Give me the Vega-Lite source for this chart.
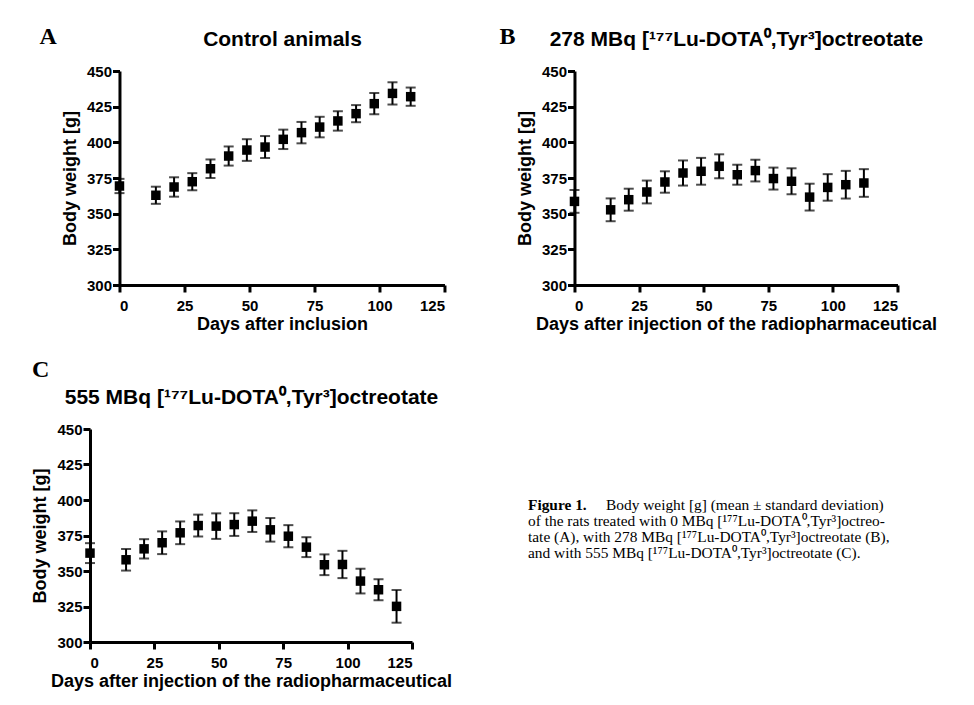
{
  "$schema": "https://vega.github.io/schema/vega-lite/v6.json",
  "background": "white",
  "padding": {"left": 31, "top": 25, "right": 5, "bottom": 5},
  "datasets": {
    "A": [
      {"day": 0, "w": 369.4, "sd": 5},
      {"day": 14, "w": 362.9, "sd": 6},
      {"day": 21, "w": 368.7, "sd": 6.8},
      {"day": 28, "w": 372.4, "sd": 6},
      {"day": 35, "w": 381.5, "sd": 6.5},
      {"day": 42, "w": 390.4, "sd": 6.7},
      {"day": 49, "w": 394.6, "sd": 7.6},
      {"day": 56, "w": 396.7, "sd": 7.7},
      {"day": 63, "w": 402.1, "sd": 6.8},
      {"day": 70, "w": 406.8, "sd": 7.5},
      {"day": 77, "w": 410.7, "sd": 7.2},
      {"day": 84, "w": 415, "sd": 6.8},
      {"day": 91, "w": 420.1, "sd": 6},
      {"day": 98, "w": 427.1, "sd": 7.4},
      {"day": 105, "w": 434.3, "sd": 7.8},
      {"day": 112, "w": 432, "sd": 6.4}
    ],
    "B": [
      {"day": 0, "w": 358.6, "sd": 8},
      {"day": 14, "w": 352.7, "sd": 8},
      {"day": 21, "w": 359.8, "sd": 7.7},
      {"day": 28, "w": 365.2, "sd": 8},
      {"day": 35, "w": 372.2, "sd": 7.5},
      {"day": 42, "w": 378.5, "sd": 8.8},
      {"day": 49, "w": 379.7, "sd": 9.4},
      {"day": 56, "w": 383.2, "sd": 8.4},
      {"day": 63, "w": 377.3, "sd": 7},
      {"day": 70, "w": 380.2, "sd": 7.6},
      {"day": 77, "w": 374.6, "sd": 7.7},
      {"day": 84, "w": 372.7, "sd": 9.1},
      {"day": 91, "w": 361.6, "sd": 9.4},
      {"day": 98, "w": 368.4, "sd": 9.3},
      {"day": 105, "w": 370.3, "sd": 9.7},
      {"day": 112, "w": 371.5, "sd": 9.7}
    ],
    "C": [
      {"day": 0, "w": 362.6, "sd": 7},
      {"day": 14, "w": 357.9, "sd": 7.6},
      {"day": 21, "w": 365.6, "sd": 6.8},
      {"day": 28, "w": 369.9, "sd": 8},
      {"day": 35, "w": 376.9, "sd": 8},
      {"day": 42, "w": 382, "sd": 7.7},
      {"day": 49, "w": 381.6, "sd": 9},
      {"day": 56, "w": 382.7, "sd": 8},
      {"day": 63, "w": 385.1, "sd": 7.6},
      {"day": 70, "w": 379, "sd": 8.3},
      {"day": 77, "w": 374.5, "sd": 7.8},
      {"day": 84, "w": 366.8, "sd": 7},
      {"day": 91, "w": 354.4, "sd": 7.3},
      {"day": 98, "w": 354.6, "sd": 9.6},
      {"day": 105, "w": 342.9, "sd": 8.7},
      {"day": 112, "w": 336.8, "sd": 7.4},
      {"day": 119, "w": 325.1, "sd": 11.5}
    ],
    "cap": [
      {"line": 1, "part": "head", "text": "Figure 1."},
      {"line": 1, "part": "rest", "text": "Body weight [g] (mean ± standard deviation)"},
      {"line": 2, "part": "body", "text": "of the rats treated with 0 MBq [¹⁷⁷Lu-DOTA⁰,Tyr³]octreo-"},
      {"line": 3, "part": "body", "text": "tate (A), with 278 MBq [¹⁷⁷Lu-DOTA⁰,Tyr³]octreotate (B),"},
      {"line": 4, "part": "body", "text": "and with 555 MBq [¹⁷⁷Lu-DOTA⁰,Tyr³]octreotate (C)."}
    ]
  },
  "spacing": 25,
  "center": true,
  "vconcat": [
    {
      "spacing": 53,
      "hconcat": [
        {
          "data": {"name": "A"},
          "width": 325,
          "height": 214,
          "title": {"text": "A", "anchor": "start", "frame": "group", "font": "Liberation Serif", "fontSize": 24, "fontWeight": "bold", "color": "black", "dx": -80, "dy": 25, "offset": 4},
          "encoding": {
            "y": {"field": "w", "type": "quantitative", "title": "Body weight [g]", "scale": {"domain": [300, 450], "nice": false, "zero": false}, "axis": {"values": [300, 325, 350, 375, 400, 425, 450]}}
          },
          "layer": [
            {"mark": {"type": "errorbar", "ticks": {"size": 10}, "thickness": 2, "color": "black"},
             "encoding": {"x": {"field": "day", "type": "quantitative", "title": "Days after inclusion", "scale": {"domain": [0, 125], "nice": false}, "axis": {"orient": "bottom", "values": [0, 25, 50, 75, 100, 125]}}, "yError": {"field": "sd"}}},
            {"mark": {"type": "point", "shape": "square", "filled": true, "size": 90, "color": "black", "opacity": 1},
             "encoding": {"x": {"field": "day", "type": "quantitative", "axis": {"orient": "top", "domain": false, "ticks": false, "labels": false, "title": "Control animals", "titleFontSize": 21, "titlePadding": 22}}}}
          ],
          "resolve": {"axis": {"x": "independent"}}
        },
        {
          "data": {"name": "B"},
          "width": 323,
          "height": 214,
          "title": {"text": "B", "anchor": "start", "frame": "group", "font": "Liberation Serif", "fontSize": 24, "fontWeight": "bold", "color": "black", "dx": -75, "dy": 25, "offset": 4},
          "encoding": {
            "y": {"field": "w", "type": "quantitative", "title": "Body weight [g]", "scale": {"domain": [300, 450], "nice": false, "zero": false}, "axis": {"values": [300, 325, 350, 375, 400, 425, 450]}}
          },
          "layer": [
            {"mark": {"type": "errorbar", "ticks": {"size": 10}, "thickness": 2, "color": "black"},
             "encoding": {"x": {"field": "day", "type": "quantitative", "title": "Days after injection of the radiopharmaceutical", "scale": {"domain": [0, 125], "nice": false}, "axis": {"orient": "bottom", "values": [0, 25, 50, 75, 100, 125]}}, "yError": {"field": "sd"}}},
            {"mark": {"type": "point", "shape": "square", "filled": true, "size": 90, "color": "black", "opacity": 1},
             "encoding": {"x": {"field": "day", "type": "quantitative", "axis": {"orient": "top", "domain": false, "ticks": false, "labels": false, "title": "278 MBq [¹⁷⁷Lu-DOTA⁰,Tyr³]octreotate", "titleFontSize": 21, "titlePadding": 22}}}}
          ],
          "resolve": {"axis": {"x": "independent"}}
        }
      ]
    },
    {
      "spacing": 76,
      "hconcat": [
        {
          "data": {"name": "C"},
          "width": 322,
          "height": 213,
          "title": {"text": "C", "anchor": "start", "frame": "group", "font": "Liberation Serif", "fontSize": 24, "fontWeight": "bold", "color": "black", "dx": -58, "dy": 0, "offset": 4},
          "encoding": {
            "y": {"field": "w", "type": "quantitative", "title": "Body weight [g]", "scale": {"domain": [300, 450], "nice": false, "zero": false}, "axis": {"values": [300, 325, 350, 375, 400, 425, 450]}}
          },
          "layer": [
            {"mark": {"type": "errorbar", "ticks": {"size": 10}, "thickness": 2, "color": "black"},
             "encoding": {"x": {"field": "day", "type": "quantitative", "title": "Days after injection of the radiopharmaceutical", "scale": {"domain": [0, 125], "nice": false}, "axis": {"orient": "bottom", "values": [0, 25, 50, 75, 100, 125]}}, "yError": {"field": "sd"}}},
            {"mark": {"type": "point", "shape": "square", "filled": true, "size": 90, "color": "black", "opacity": 1},
             "encoding": {"x": {"field": "day", "type": "quantitative", "axis": {"orient": "top", "domain": false, "ticks": false, "labels": false, "title": "555 MBq [¹⁷⁷Lu-DOTA⁰,Tyr³]octreotate", "titleFontSize": 21, "titlePadding": 22}}}}
          ],
          "resolve": {"axis": {"x": "independent"}}
        },
        {
          "data": {"name": "cap"},
          "width": 438,
          "height": 200,
          "encoding": {
            "x": {"datum": 0, "type": "quantitative", "scale": {"domain": [0, 1]}, "axis": null},
            "y": {"field": "line", "type": "quantitative", "scale": {"domain": [-4.06, 8.44], "reverse": true}, "axis": null},
            "text": {"field": "text"}
          },
          "layer": [
            {"transform": [{"filter": "datum.part == 'head'"}], "mark": {"type": "text", "align": "left", "baseline": "alphabetic", "font": "Liberation Serif", "fontSize": 15.4, "fontWeight": "bold", "color": "black"}},
            {"transform": [{"filter": "datum.part == 'rest'"}], "mark": {"type": "text", "align": "left", "baseline": "alphabetic", "font": "Liberation Serif", "fontSize": 15.4, "color": "black", "dx": 78}},
            {"transform": [{"filter": "datum.part == 'body'"}], "mark": {"type": "text", "align": "left", "baseline": "alphabetic", "font": "Liberation Serif", "fontSize": 15.4, "color": "black"}}
          ]
        }
      ]
    }
  ],
  "config": {
    "view": {"stroke": null},
    "font": "Liberation Sans",
    "title": {"font": "Liberation Sans", "fontSize": 21, "fontWeight": "bold", "color": "black"},
    "axis": {"domainColor": "black", "domainWidth": 3, "tickColor": "black", "tickWidth": 3, "tickSize": 7, "labelFont": "Liberation Sans", "labelFontSize": 15, "labelFontWeight": "bold", "labelColor": "black", "titleFont": "Liberation Sans", "titleFontSize": 18, "titleFontWeight": "bold", "titleColor": "black", "grid": false},
    "axisX": {"labelPadding": 6, "titlePadding": 2},
    "axisY": {"labelPadding": 1, "titlePadding": 7}
  }
}
